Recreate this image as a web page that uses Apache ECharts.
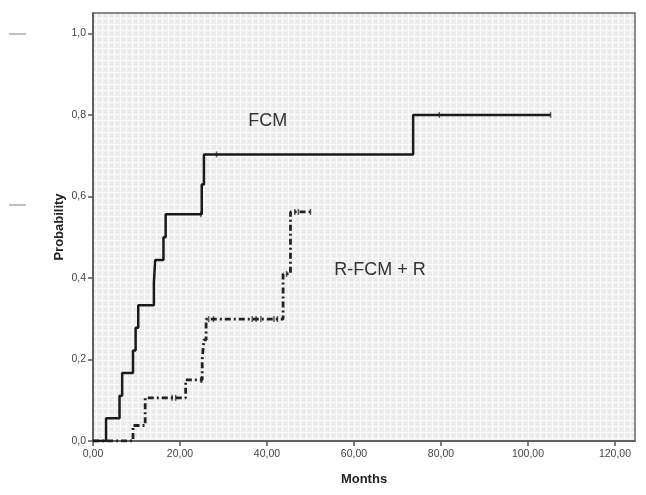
<!DOCTYPE html>
<html>
<head>
<meta charset="utf-8">
<script src="https://cdn.jsdelivr.net/npm/echarts@6/dist/echarts.min.js"></script>
<style>
  html, body { margin: 0; padding: 0; background: #fff; }
  #chart { width: 646px; height: 495px; }
</style>
</head>
<body>
<div id="chart"></div>
<script>
// Kaplan-Meier style cumulative curves
const fcmTimes = [0, 3.0, 6.1, 6.7, 9.2, 9.8, 10.4, 14.0, 14.3, 16.2, 16.7, 25.0, 25.5, 73.6, 105.2];
const fcmProb  = [0, 0.056, 0.111, 0.167, 0.222, 0.278, 0.333, 0.389, 0.444, 0.5, 0.556, 0.629, 0.703, 0.80, 0.80];
const fcmCensorTimes = [24.8, 28.4, 79.6, 105.2];
const fcmCensorProb  = [0.556, 0.703, 0.80, 0.80];

const rTimes = [0, 9.2, 12.0, 21.3, 25.1, 25.5, 26.0, 43.7, 45.4, 50.0];
const rProb  = [0, 0.038, 0.106, 0.15, 0.20, 0.248, 0.299, 0.41, 0.562, 0.562];
const rCensorTimes = [18.2, 19.0, 24.8, 25.0, 26.6, 27.7, 36.6, 37.5, 38.6, 41.6, 42.4, 44.5, 46.4, 47.2, 50.0];
const rCensorProb  = [0.106, 0.106, 0.15, 0.15, 0.299, 0.299, 0.299, 0.299, 0.299, 0.299, 0.299, 0.41, 0.562, 0.562, 0.562];

const xTicks = [0, 20, 40, 60, 80, 100, 120];
const yTicks = [0, 0.2, 0.4, 0.6, 0.8, 1.0];

// curve captions, placed in data coordinates
const labelNames = ['FCM', 'R-FCM + R'];
const labelAt = [[40.2, 0.784], [66.0, 0.42]];

const pairs = (xs, ys) => xs.map((x, i) => [x, ys[i]]);

// plot background: light grey with faint white grid and tiny crosses (SPSS look)
const pat = document.createElement('canvas');
pat.width = 6; pat.height = 6;
(function(){
  const c = pat.getContext('2d');
  c.fillStyle = '#efefef';
  c.fillRect(0, 0, 6, 6);
  c.fillStyle = '#fcfcfc';
  c.fillRect(0, 0, 6, 1);
  c.fillRect(0, 0, 1, 6);
  c.fillStyle = '#e2e2e2';
  c.fillRect(3, 3, 1, 1);
  c.fillStyle = '#e8e8e8';
  c.fillRect(2, 2, 1, 1); c.fillRect(4, 4, 1, 1); c.fillRect(2, 4, 1, 1); c.fillRect(4, 2, 1, 1);
})();

const chart = echarts.init(document.getElementById('chart'));
const font = '"Liberation Sans", Arial, sans-serif';

const caption = (i) => ({
  coord: labelAt[i], value: labelNames[i],
  symbol: 'circle', symbolSize: 1, itemStyle: { color: 'rgba(0,0,0,0)' },
  label: { show: true, position: 'inside', formatter: labelNames[i], fontFamily: font, fontSize: 18, color: '#333' }
});

chart.setOption({
  animation: false,
  backgroundColor: '#fff',
  textStyle: { fontFamily: font },
  grid: {
    left: 93, right: 11, top: 13, bottom: 54,
    show: true,
    backgroundColor: { image: pat, repeat: 'repeat' },
    borderColor: '#666', borderWidth: 1.5
  },
  xAxis: {
    type: 'value', min: 0, max: 124.6, interval: 20,
    name: 'Months', nameLocation: 'middle', nameGap: 32,
    nameTextStyle: { fontFamily: font, fontWeight: 'bold', fontSize: 13, color: '#222' },
    axisLine: { show: true, lineStyle: { color: '#555', width: 1.5 } },
    axisTick: { show: true, length: 5, lineStyle: { color: '#555', width: 1.5 } },
    axisLabel: {
      showMaxLabel: false, fontSize: 10.5, color: '#444', margin: 8,
      formatter: v => xTicks.includes(v) ? v.toFixed(2).replace('.', ',') : ''
    },
    splitLine: { show: false }
  },
  yAxis: {
    type: 'value', min: 0, max: 1.05, interval: 0.2,
    name: 'Probability', nameLocation: 'middle', nameGap: 27, nameRotate: 90,
    nameMoveOverlap: false,
    nameTextStyle: { fontFamily: font, fontWeight: 'bold', fontSize: 13, color: '#222' },
    axisLine: { show: true, lineStyle: { color: '#555', width: 1.5 } },
    axisTick: { show: true, length: 5, lineStyle: { color: '#555', width: 1.5 } },
    axisLabel: {
      showMaxLabel: false, fontSize: 10.5, color: '#444', margin: 7,
      formatter: v => yTicks.some(t => Math.abs(t - v) < 1e-6) ? v.toFixed(1).replace('.', ',') : ''
    },
    splitLine: { show: false }
  },
  graphic: [
    { type: 'line', shape: { x1: 9, y1: 34, x2: 26, y2: 34 }, style: { stroke: '#aaa', lineWidth: 1.5 } },
    { type: 'line', shape: { x1: 9, y1: 205, x2: 26, y2: 205 }, style: { stroke: '#aaa', lineWidth: 1.5 } }
  ],
  series: [
    {
      name: 'R-FCM + R', type: 'line', step: 'end', symbol: 'none',
      data: pairs(rTimes, rProb),
      lineStyle: { color: '#222', width: 2.8, type: [6, 3, 2, 3] },
      markPoint: { data: [caption(1)] }
    },
    {
      name: 'FCM', type: 'line', step: 'end', symbol: 'none',
      data: pairs(fcmTimes, fcmProb),
      lineStyle: { color: '#1a1a1a', width: 2.5 },
      markPoint: { data: [caption(0)] }
    },
    {
      name: 'FCM censored', type: 'scatter', symbol: 'rect', symbolSize: [1.5, 6],
      data: pairs(fcmCensorTimes, fcmCensorProb),
      itemStyle: { color: '#444' }
    },
    {
      name: 'R censored', type: 'scatter', symbol: 'rect', symbolSize: [1.5, 6],
      data: pairs(rCensorTimes, rCensorProb),
      itemStyle: { color: '#333' }
    }
  ]
});
</script>
</body>
</html>
